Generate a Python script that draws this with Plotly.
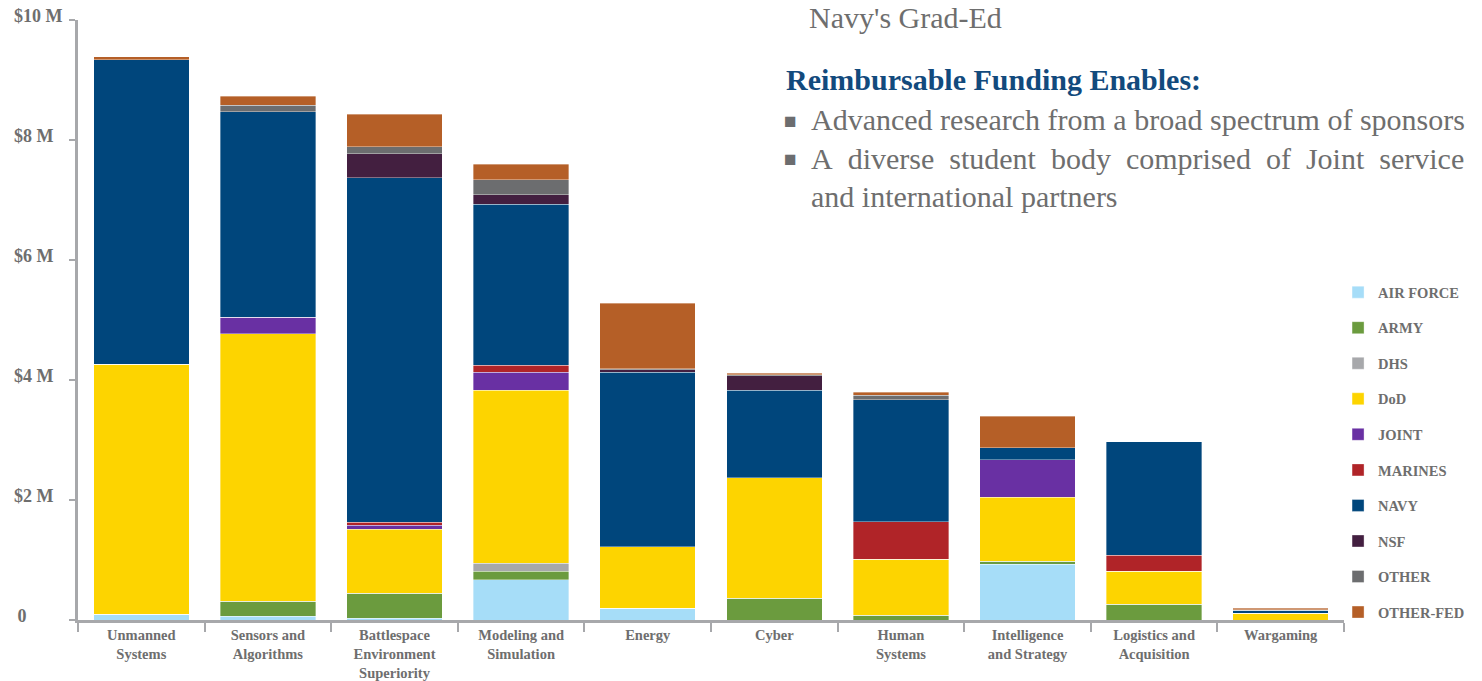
import plotly.graph_objects as go

categories = ["Unmanned<br>Systems", "Sensors and<br>Algorithms", "Battlespace<br>Environment<br>Superiority",
              "Modeling and<br>Simulation", "Energy", "Cyber", "Human<br>Systems",
              "Intelligence<br>and Strategy", "Logistics and<br>Acquisition", "Wargaming"]

air_force = [0.10, 0.06, 0.03, 0.67, 0.20, 0.00, 0.00, 0.93, 0.00, 0.00]
army      = [0.00, 0.25, 0.42, 0.14, 0.00, 0.36, 0.08, 0.05, 0.26, 0.00]
dhs       = [0.00, 0.00, 0.00, 0.14, 0.00, 0.00, 0.00, 0.00, 0.00, 0.00]
dod       = [4.16, 4.46, 1.06, 2.88, 1.02, 2.01, 0.93, 1.07, 0.55, 0.11]
joint     = [0.00, 0.28, 0.07, 0.30, 0.00, 0.00, 0.00, 0.62, 0.00, 0.00]
marines   = [0.00, 0.00, 0.05, 0.12, 0.00, 0.00, 0.63, 0.00, 0.27, 0.00]
navy      = [5.08, 3.42, 5.74, 2.68, 2.91, 1.46, 2.03, 0.20, 1.89, 0.05]
nsf       = [0.00, 0.00, 0.40, 0.16, 0.04, 0.24, 0.00, 0.00, 0.00, 0.00]
other     = [0.00, 0.11, 0.12, 0.25, 0.02, 0.02, 0.08, 0.00, 0.00, 0.01]
other_fed = [0.05, 0.15, 0.54, 0.26, 1.09, 0.02, 0.05, 0.53, 0.00, 0.03]

series_names = ["AIR FORCE", "ARMY", "DHS", "DoD", "JOINT", "MARINES", "NAVY", "NSF", "OTHER", "OTHER-FED"]
series_values = [air_force, army, dhs, dod, joint, marines, navy, nsf, other, other_fed]
series_colors = ["#a6ddf8", "#6b9b3e", "#a7a8ab", "#fdd400", "#6930a3", "#b02428",
                 "#00467c", "#431f40", "#6c6d6f", "#b55f27"]

y_tickvals = [0, 2, 4, 6, 8, 10]
y_ticktext = ["0", "$2 M", "$4 M", "$6 M", "$8 M", "$10 M"]

FONT = "Liberation Serif"
GREY = "#6e6e6e"
AXIS = "#a7a8ab"
NB = "\u00a0"

# labels in the reference are left aligned; pad shorter ones on the right
pad = {"0": NB * 8, "$10 M": ""}
y_ticktext_padded = [t + pad.get(t, NB * 2) for t in y_ticktext]

fig = go.Figure()
for name, vals, col in zip(series_names, series_values, series_colors):
    fig.add_trace(go.Bar(
        x=categories, y=vals, name=name, legendgroup=name,
        marker=dict(color=col, line=dict(color="rgba(255,255,255,0.45)", width=0.8)),
    ))

fig.update_layout(
    width=1482, height=681,
    barmode="stack", bargap=0.245,
    margin=dict(l=78, r=132, t=20, b=61),
    plot_bgcolor="white", paper_bgcolor="white",
    font=dict(family=FONT, color=GREY),
    legend=dict(
        x=0.9953, xref="paper", xanchor="left",
        y=0.573, yanchor="top",
        traceorder="grouped", tracegroupgap=13.7,
        font=dict(family=FONT, size=14.5, color=GREY, weight="bold"),
        bgcolor="rgba(0,0,0,0)",
    ),
)

fig.update_xaxes(
    automargin=False,
    showline=True, linecolor=AXIS, linewidth=3,
    ticks="outside", tickson="boundaries", ticklen=9, tickwidth=2, tickcolor=AXIS,
    tickfont=dict(family=FONT, size=14.5, color=GREY, weight="bold"),
    showgrid=False,
)
fig.update_yaxes(
    automargin=False,
    range=[0, 10], showline=True, linecolor=AXIS, linewidth=3,
    ticks="outside", ticklen=6, tickwidth=2, tickcolor=AXIS,
    tickvals=y_tickvals, ticktext=y_ticktext_padded,
    tickfont=dict(family=FONT, size=18, color=GREY, weight="bold"),
    ticklabelshift=-4, ticklabelstandoff=3,
    showgrid=False, zeroline=False,
)

def px2paper(px, py):
    return (px - 78) / 1272, (620 - py) / 600

def add_text(text, px, py, size, color, bold=False):
    x, y = px2paper(px, py)
    fig.add_annotation(
        text=text, x=x, y=y, xref="paper", yref="paper",
        xanchor="left", yanchor="middle", showarrow=False,
        font=dict(family=FONT, size=size, color=color, weight="bold" if bold else "normal"),
    )

add_text("Navy's Grad-Ed", 810, 18, 30, GREY)
add_text("Reimbursable Funding Enables:", 787, 80, 30, "#124a7d", bold=True)
add_text("■", 785, 121, 21, "#6c6d6f")
add_text("Advanced research from a broad spectrum of sponsors", 812, 120, 30, GREY)
add_text("■", 785, 159, 21, "#6c6d6f")
add_text("A\u00a0 diverse\u00a0 student\u00a0 body\u00a0 comprised\u00a0 of\u00a0 Joint\u00a0 service", 812, 158, 30, GREY)
add_text("and international partners", 812, 196, 30, GREY)

fig.write_html("out.html", config={"displayModeBar": False},
               post_script="document.body.style.margin='0';document.body.style.overflow='hidden';")
